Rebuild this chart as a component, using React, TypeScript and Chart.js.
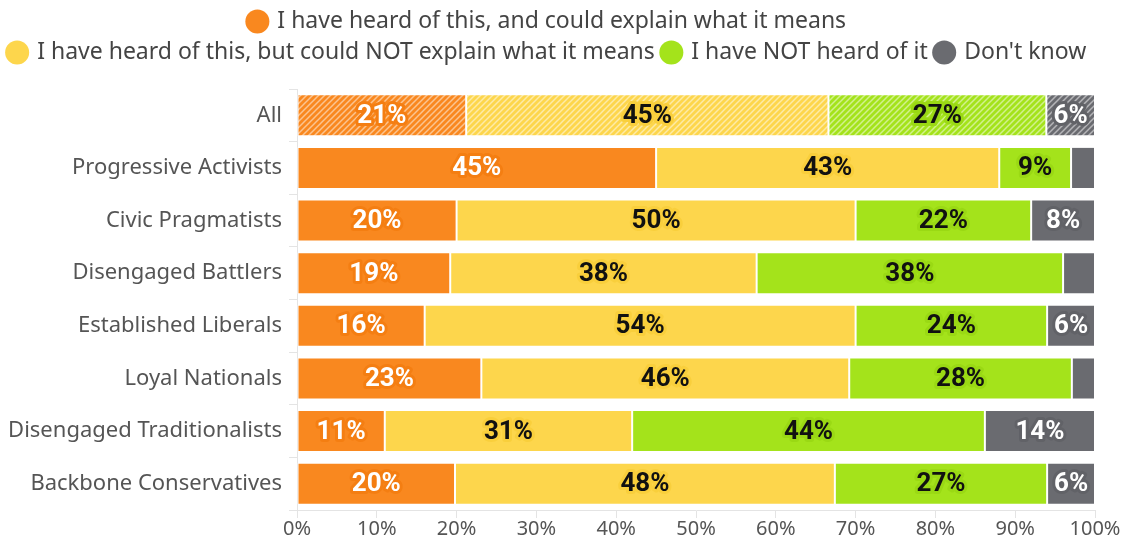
import { useEffect, useRef } from "react";
import { Chart, registerables } from "chart.js";

Chart.register(...registerables);

const categories = [
  "All",
  "Progressive Activists",
  "Civic Pragmatists",
  "Disengaged Battlers",
  "Established Liberals",
  "Loyal Nationals",
  "Disengaged Traditionalists",
  "Backbone Conservatives",
];

const seriesNames = [
  "I have heard of this, and could explain what it means",
  "I have heard of this, but could NOT explain what it means",
  "I have NOT heard of it",
  "Don't know",
];

const couldExplain = [21.2, 45, 20, 19.2, 16, 23.1, 11, 19.8];
const couldNotExplain = [45.4, 43, 50, 38.4, 54, 46.1, 31, 47.6];
const notHeard = [27.3, 9, 22, 38.4, 24, 27.9, 44.2, 26.6];
const dontKnow = [6.1, 3, 8, 4.0, 6, 2.9, 13.8, 6.0];

const xTickValues = [0, 10, 20, 30, 40, 50, 60, 70, 80, 90, 100];

const colors = ["#F9881F", "#FDD64C", "#A4E31B", "#6A6B70"];
const haloColors = ["#F47E12", "#F9CF3C", "#9AD914", "#616267"];
const textColors = ["#ffffff", "#111111", "#111111", "#ffffff"];

function makeHatch(color: string): CanvasPattern | string {
  const c = document.createElement("canvas");
  const s = 6;
  c.width = s;
  c.height = s;
  const g = c.getContext("2d");
  if (!g) return color;
  g.fillStyle = color;
  g.fillRect(0, 0, s, s);
  g.strokeStyle = "rgba(255,255,255,0.5)";
  g.lineWidth = 1.5;
  g.beginPath();
  g.moveTo(0, s);
  g.lineTo(s, 0);
  g.moveTo(-s / 2, s / 2);
  g.lineTo(s / 2, -s / 2);
  g.moveTo(s / 2, s * 1.5);
  g.lineTo(s * 1.5, s / 2);
  g.stroke();
  const p = g.createPattern(c, "repeat");
  return p || color;
}

const labelPlugin = {
  id: "barLabels",
  afterDatasetsDraw(chart: any) {
    const ctx = chart.ctx;
    chart.data.datasets.forEach((ds: any, di: number) => {
      const meta = chart.getDatasetMeta(di);
      meta.data.forEach((bar: any, i: number) => {
        const v = ds.data[i] as number;
        if (v < 5) return;
        const { x, y, base } = bar.getProps(["x", "y", "base"], true);
        const cx = (x + base) / 2;
        const txt = Math.round(v) + "%";
        ctx.save();
        ctx.font = "bold 26px Roboto";
        ctx.textAlign = "center";
        ctx.textBaseline = "middle";
        ctx.lineJoin = "round";
        ctx.strokeStyle = haloColors[di];
        ctx.lineWidth = 6;
        ctx.strokeText(txt, cx, y + 1);
        ctx.fillStyle = textColors[di];
        ctx.fillText(txt, cx, y + 1);
        ctx.restore();
      });
    });
  },
};

const legendGap = {
  id: "legendGap",
  beforeInit(chart: any) {
    if (!chart.legend) return;
    const orig = chart.legend.fit;
    chart.legend.fit = function () {
      orig.bind(this)();
      this.height += 15;
    };
  },
};

export default function App() {
  const ref = useRef<HTMLCanvasElement | null>(null);

  useEffect(() => {
    document.body.style.margin = "0";
    if (!ref.current) return;
    const series = [couldExplain, couldNotExplain, notHeard, dontKnow];
    const datasets = series.map((data, si) => ({
      label: seriesNames[si],
      data,
      backgroundColor: data.map((_, i) => (i === 0 ? makeHatch(colors[si]) : colors[si])),
      borderColor: "#ffffff",
      borderWidth: 1,
      borderSkipped: false,
      categoryPercentage: 1,
      barPercentage: 0.8,
    }));

    const chart = new Chart(ref.current, {
      type: "bar",
      data: { labels: categories, datasets },
      plugins: [labelPlugin, legendGap],
      options: {
        indexAxis: "y",
        animation: false,
        responsive: true,
        maintainAspectRatio: false,
        layout: { padding: { right: 31, left: 0, top: 2, bottom: 0 } },
        plugins: {
          tooltip: { enabled: false },
          legend: {
            position: "top",
            labels: {
              usePointStyle: true,
              pointStyle: "circle",
              boxWidth: 17,
              boxHeight: 17,
              padding: 8,
              color: "#444",
              font: { family: "'Noto Sans'", size: 23 },
              generateLabels: (ch: any) =>
                ch.data.datasets.map((d: any, i: number) => ({
                  text: d.label,
                  fillStyle: colors[i],
                  strokeStyle: colors[i],
                  lineWidth: 0,
                  pointStyle: "circle",
                  hidden: false,
                  datasetIndex: i,
                  fontColor: "#444",
                })),
            },
          },
        },
        scales: {
          x: {
            stacked: true,
            min: 0,
            max: 100,
            afterBuildTicks: (s: any) => {
              s.ticks = xTickValues.map((v) => ({ value: v }));
            },
            ticks: {
              color: "#555",
              font: { family: "'Noto Sans'", size: 20, lineHeight: 1.1 },
              padding: 0,
              callback: (v: any) => v + "%",
            },
            grid: {
              drawOnChartArea: false,
              drawTicks: true,
              tickLength: 8,
              color: "#e4e4e4",
            },
            border: { display: true, color: "#e4e4e4" },
          },
          y: {
            stacked: true,
            afterFit: (s: any) => {
              s.width = 297;
            },
            ticks: {
              color: "#555",
              font: { family: "'Noto Sans'", size: 22 },
              padding: 7,
            },
            grid: {
              drawOnChartArea: false,
              drawTicks: true,
              tickLength: 8,
              color: "#e4e4e4",
            },
            border: { display: true, color: "#e4e4e4" },
          },
        },
      },
    } as any);
    return () => chart.destroy();
  }, []);

  return (
    <div style={{ position: "relative", width: 1126, height: 540 }}>
      <canvas ref={ref} />
    </div>
  );
}
